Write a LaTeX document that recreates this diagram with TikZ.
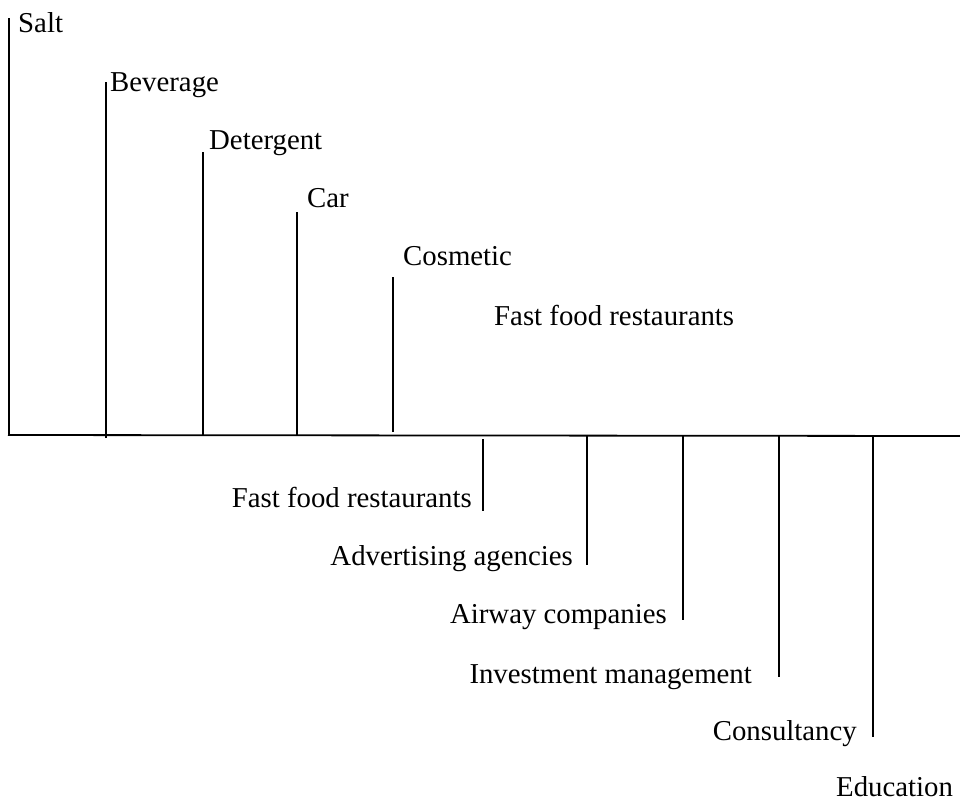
\documentclass[tikz,border=0pt]{standalone}
\usepackage{fontspec}
\setmainfont{Liberation Serif}
\begin{document}
\begin{tikzpicture}[x=1pt,y=-1pt,
  bar/.style={line width=1.8pt, black},
  lbl/.style={inner sep=0pt, font=\fontsize{28.8}{34}\selectfont},
  up/.style={lbl, anchor=base west},
  down/.style={lbl, anchor=base east}]
\useasboundingbox (0,0) rectangle (960,801);

% horizontal axis
\coordinate (axL) at (8,435);
\coordinate (axR) at (960,436);
\draw[bar] (axL) -- (axR);

% bars above the axis
\coordinate (saltB) at (9,435);   \coordinate (saltT) at (9,18);
\coordinate (bevB)  at (106,438); \coordinate (bevT)  at (106,82);
\coordinate (detB)  at (203,435); \coordinate (detT)  at (203,152);
\coordinate (carB)  at (297,436); \coordinate (carT)  at (297,212);
\coordinate (cosB)  at (393,432); \coordinate (cosT)  at (393,277);
\draw[bar] (saltB) -- (saltT);
\draw[bar] (bevB) -- (bevT);
\draw[bar] (detB) -- (detT);
\draw[bar] (carB) -- (carT);
\draw[bar] (cosB) -- (cosT);

\node[up] (salt) at (18,32)  {Salt};
\node[up] (bev)  at (110,91) {Beverage};
\node[up] (det)  at (209,149) {Detergent};
\node[up] (car)  at (307,207) {Car};
\node[up] (cos)  at (403,265) {Cosmetic};
\node[up] (ffU)  at (494,325) {Fast food restaurants};

% bars below the axis
\coordinate (ffT)  at (483,439); \coordinate (ffB)  at (483,511);
\coordinate (advT) at (587,436); \coordinate (advB) at (587,565);
\coordinate (airT) at (683,436); \coordinate (airB) at (683,620);
\coordinate (invT) at (779,436); \coordinate (invB) at (779,677);
\coordinate (conT) at (873,436); \coordinate (conB) at (873,737);
\draw[bar] (ffT) -- (ffB);
\draw[bar] (advT) -- (advB);
\draw[bar] (airT) -- (airB);
\draw[bar] (invT) -- (invB);
\draw[bar] (conT) -- (conB);

\node[down] (ffL)  at (472,507) {Fast food restaurants};
\node[down] (adv)  at (573,565) {Advertising agencies};
\node[down] (air)  at (667,623) {Airway companies};
\node[down] (inv)  at (752,683) {Investment management};
\node[down] (con)  at (857,740) {Consultancy};
\node[up]   (edu)  at (836,796) {Education};
\end{tikzpicture}
\end{document}
